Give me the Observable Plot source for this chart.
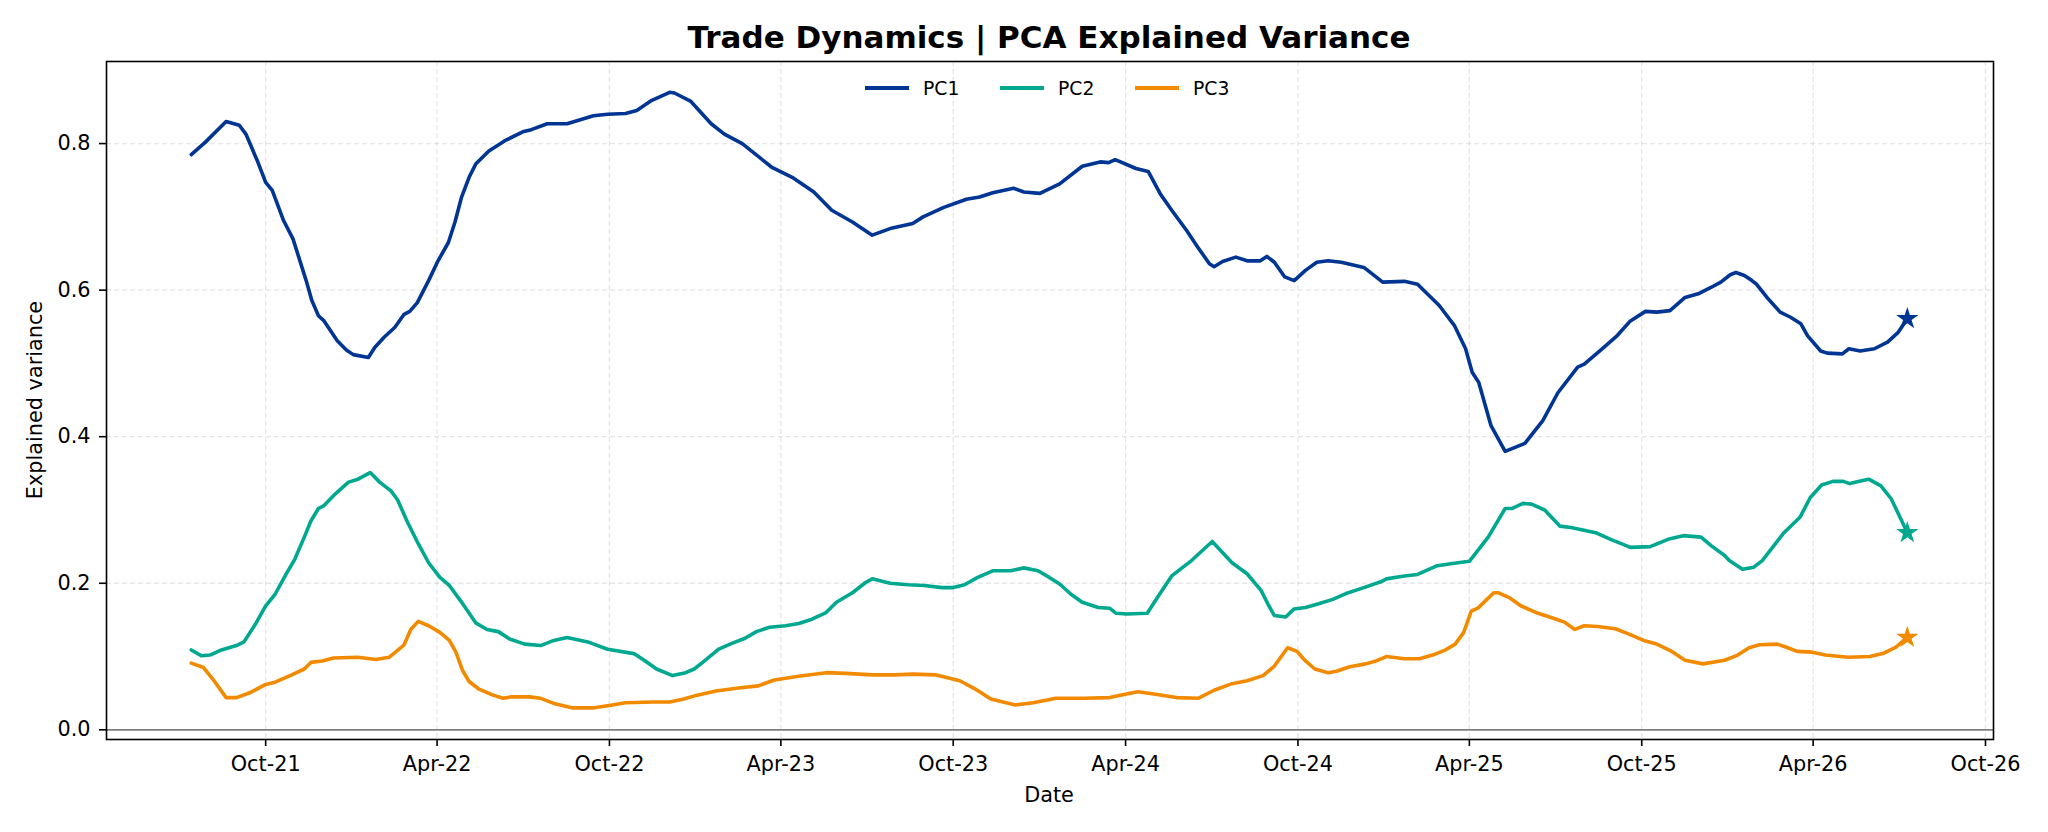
<!DOCTYPE html>
<html><head><meta charset="utf-8">
<script src="https://cdn.jsdelivr.net/npm/d3@7"></script>
<script src="https://cdn.jsdelivr.net/npm/@observablehq/plot@0.6"></script>
<style>html,body{margin:0;padding:0;background:#fff;} svg{display:block;}</style>
</head><body><div id="chart"></div>
<script>
const titleText = "Trade Dynamics | PCA Explained Variance";
const xLabel = "Date";
const yLabel = "Explained variance";
const seriesNames = ["PC1", "PC2", "PC3"];
const seriesColors = ["#003594", "#00A88F", "#F28A00"];
const yTicks = [0, 0.2, 0.4, 0.6, 0.8];
const xTickDates = ["2021-10-01","2022-04-01","2022-10-01","2023-04-01","2023-10-01","2024-04-01","2024-10-01","2025-04-01","2025-10-01","2026-04-01","2026-10-01"];
const xTickLabels = ["Oct-21","Apr-22","Oct-22","Apr-23","Oct-23","Apr-24","Oct-24","Apr-25","Oct-25","Apr-26","Oct-26"];

const pc1Dates = ["2021-07-14","2021-07-29","2021-08-20","2021-09-03","2021-09-10","2021-09-22","2021-10-01","2021-10-08","2021-10-20","2021-10-30","2021-11-13","2021-11-19","2021-11-26","2021-12-02","2021-12-16","2021-12-26","2022-01-02","2022-01-18","2022-01-25","2022-02-04","2022-02-15","2022-02-25","2022-03-03","2022-03-11","2022-03-23","2022-04-02","2022-04-13","2022-04-20","2022-04-27","2022-05-05","2022-05-12","2022-05-26","2022-06-12","2022-07-01","2022-07-10","2022-07-27","2022-08-17","2022-09-14","2022-09-29","2022-10-18","2022-10-30","2022-11-15","2022-12-04","2022-12-09","2022-12-26","2023-01-17","2023-01-31","2023-02-19","2023-03-22","2023-04-13","2023-05-06","2023-05-25","2023-06-16","2023-07-07","2023-07-26","2023-08-19","2023-08-30","2023-09-21","2023-10-15","2023-10-29","2023-11-12","2023-12-04","2023-12-15","2024-01-01","2024-01-22","2024-02-15","2024-03-05","2024-03-14","2024-03-21","2024-04-12","2024-04-25","2024-05-08","2024-05-20","2024-06-05","2024-06-17","2024-06-29","2024-07-04","2024-07-13","2024-07-27","2024-08-08","2024-08-22","2024-08-29","2024-09-06","2024-09-17","2024-09-27","2024-10-09","2024-10-21","2024-11-02","2024-11-16","2024-12-10","2024-12-30","2025-01-22","2025-02-05","2025-02-28","2025-03-16","2025-03-28","2025-04-04","2025-04-11","2025-04-24","2025-05-09","2025-05-30","2025-06-18","2025-07-04","2025-07-25","2025-08-01","2025-08-20","2025-09-05","2025-09-19","2025-10-05","2025-10-17","2025-10-31","2025-11-16","2025-11-30","2025-12-14","2025-12-24","2026-01-03","2026-01-09","2026-01-18","2026-01-26","2026-01-31","2026-02-11","2026-02-25","2026-03-08","2026-03-19","2026-03-26","2026-04-09","2026-04-16","2026-05-02","2026-05-09","2026-05-21","2026-06-05","2026-06-19","2026-06-30","2026-07-10"];
const pc1Values = [0.785,0.802,0.830,0.825,0.813,0.777,0.747,0.736,0.695,0.670,0.613,0.586,0.565,0.558,0.531,0.518,0.512,0.508,0.522,0.536,0.549,0.567,0.571,0.583,0.613,0.640,0.665,0.693,0.727,0.754,0.772,0.790,0.804,0.816,0.819,0.827,0.827,0.838,0.840,0.841,0.845,0.859,0.870,0.869,0.858,0.827,0.813,0.800,0.768,0.754,0.734,0.709,0.693,0.675,0.684,0.691,0.700,0.713,0.724,0.727,0.733,0.739,0.734,0.732,0.745,0.769,0.775,0.774,0.778,0.766,0.762,0.731,0.709,0.681,0.658,0.636,0.632,0.639,0.645,0.640,0.640,0.646,0.638,0.618,0.613,0.627,0.638,0.640,0.638,0.631,0.611,0.612,0.608,0.579,0.552,0.520,0.488,0.474,0.415,0.380,0.391,0.422,0.460,0.495,0.499,0.520,0.538,0.558,0.571,0.570,0.572,0.590,0.595,0.604,0.611,0.621,0.624,0.620,0.613,0.608,0.590,0.570,0.563,0.554,0.538,0.517,0.514,0.513,0.520,0.517,0.520,0.529,0.542,0.561];

const pc2Dates = ["2021-07-14","2021-07-25","2021-08-03","2021-08-15","2021-08-31","2021-09-08","2021-09-20","2021-10-01","2021-10-11","2021-10-23","2021-11-01","2021-11-11","2021-11-18","2021-11-26","2021-12-02","2021-12-14","2021-12-28","2022-01-07","2022-01-20","2022-01-30","2022-02-11","2022-02-18","2022-02-28","2022-03-12","2022-03-23","2022-04-04","2022-04-14","2022-04-26","2022-05-12","2022-05-24","2022-06-05","2022-06-17","2022-07-03","2022-07-20","2022-08-03","2022-08-17","2022-09-08","2022-09-29","2022-10-27","2022-11-08","2022-11-20","2022-12-07","2022-12-21","2022-12-30","2023-01-08","2023-01-25","2023-02-08","2023-02-22","2023-03-06","2023-03-20","2023-04-06","2023-04-20","2023-05-04","2023-05-19","2023-05-30","2023-06-16","2023-06-30","2023-07-07","2023-07-26","2023-08-14","2023-08-31","2023-09-19","2023-09-30","2023-10-13","2023-10-27","2023-11-12","2023-12-01","2023-12-15","2023-12-30","2024-01-11","2024-01-22","2024-02-03","2024-02-15","2024-03-03","2024-03-15","2024-03-22","2024-04-02","2024-04-24","2024-05-06","2024-05-20","2024-06-10","2024-07-02","2024-07-23","2024-08-08","2024-08-23","2024-08-30","2024-09-06","2024-09-18","2024-09-27","2024-10-09","2024-10-23","2024-11-07","2024-11-21","2024-12-10","2024-12-28","2025-01-03","2025-01-22","2025-02-05","2025-02-26","2025-03-14","2025-04-01","2025-04-21","2025-05-09","2025-05-16","2025-05-28","2025-06-06","2025-06-20","2025-07-06","2025-07-18","2025-08-13","2025-08-29","2025-09-19","2025-10-10","2025-10-29","2025-11-14","2025-12-03","2025-12-14","2025-12-28","2026-01-02","2026-01-16","2026-01-28","2026-02-06","2026-02-20","2026-03-01","2026-03-18","2026-03-29","2026-04-10","2026-04-22","2026-05-03","2026-05-10","2026-05-19","2026-05-30","2026-06-12","2026-06-23","2026-07-03","2026-07-10"];
const pc2Values = [0.109,0.101,0.102,0.109,0.115,0.120,0.144,0.169,0.185,0.213,0.233,0.263,0.285,0.302,0.306,0.322,0.338,0.342,0.351,0.338,0.326,0.314,0.285,0.254,0.228,0.208,0.197,0.176,0.146,0.137,0.134,0.124,0.117,0.115,0.122,0.126,0.120,0.110,0.104,0.094,0.083,0.074,0.078,0.083,0.092,0.110,0.118,0.125,0.134,0.140,0.142,0.145,0.151,0.160,0.174,0.187,0.201,0.206,0.200,0.198,0.197,0.194,0.194,0.198,0.208,0.217,0.217,0.221,0.217,0.208,0.199,0.185,0.174,0.167,0.166,0.159,0.158,0.159,0.183,0.210,0.231,0.257,0.228,0.213,0.190,0.172,0.156,0.154,0.165,0.167,0.172,0.178,0.186,0.194,0.202,0.206,0.210,0.212,0.224,0.227,0.230,0.263,0.302,0.302,0.309,0.308,0.300,0.278,0.276,0.269,0.260,0.249,0.250,0.260,0.265,0.263,0.251,0.238,0.231,0.219,0.222,0.231,0.254,0.269,0.290,0.317,0.334,0.339,0.339,0.336,0.339,0.342,0.333,0.315,0.288,0.269];

const pc3Dates = ["2021-07-14","2021-07-27","2021-08-06","2021-08-20","2021-08-31","2021-09-15","2021-10-01","2021-10-11","2021-10-27","2021-11-11","2021-11-18","2021-11-30","2021-12-12","2022-01-07","2022-01-26","2022-02-09","2022-02-25","2022-03-04","2022-03-12","2022-03-23","2022-04-04","2022-04-14","2022-04-21","2022-04-28","2022-05-05","2022-05-15","2022-05-29","2022-06-10","2022-06-19","2022-07-08","2022-07-20","2022-08-03","2022-08-22","2022-09-15","2022-10-04","2022-10-18","2022-11-16","2022-12-04","2022-12-19","2023-01-01","2023-01-22","2023-02-15","2023-03-08","2023-03-25","2023-04-20","2023-05-19","2023-06-09","2023-07-07","2023-07-31","2023-08-19","2023-09-12","2023-10-08","2023-10-24","2023-11-10","2023-12-06","2023-12-25","2024-01-18","2024-02-17","2024-03-15","2024-04-02","2024-04-14","2024-05-01","2024-05-25","2024-06-17","2024-07-04","2024-07-23","2024-08-08","2024-08-25","2024-09-06","2024-09-20","2024-09-30","2024-10-09","2024-10-19","2024-11-02","2024-11-11","2024-11-25","2024-12-12","2024-12-23","2025-01-03","2025-01-22","2025-02-07","2025-02-21","2025-03-05","2025-03-17","2025-03-26","2025-04-03","2025-04-10","2025-04-18","2025-04-27","2025-05-02","2025-05-14","2025-05-26","2025-06-13","2025-06-30","2025-07-11","2025-07-22","2025-08-01","2025-08-15","2025-09-03","2025-09-17","2025-10-03","2025-10-17","2025-11-02","2025-11-16","2025-12-05","2025-12-28","2026-01-11","2026-01-23","2026-02-03","2026-02-22","2026-03-03","2026-03-15","2026-03-31","2026-04-14","2026-05-08","2026-05-31","2026-06-14","2026-06-28","2026-07-10"];
const pc3Values = [0.091,0.085,0.069,0.044,0.044,0.051,0.062,0.065,0.074,0.083,0.092,0.094,0.098,0.099,0.096,0.099,0.116,0.137,0.148,0.142,0.133,0.122,0.106,0.081,0.066,0.056,0.048,0.043,0.045,0.045,0.043,0.036,0.030,0.030,0.034,0.037,0.038,0.038,0.042,0.047,0.053,0.057,0.060,0.068,0.073,0.078,0.077,0.075,0.075,0.076,0.075,0.067,0.056,0.042,0.034,0.037,0.043,0.043,0.044,0.049,0.052,0.049,0.044,0.043,0.054,0.063,0.067,0.074,0.087,0.112,0.107,0.094,0.083,0.078,0.080,0.086,0.090,0.094,0.100,0.097,0.097,0.102,0.108,0.117,0.133,0.162,0.166,0.176,0.187,0.187,0.180,0.169,0.159,0.152,0.147,0.137,0.142,0.141,0.138,0.131,0.122,0.117,0.107,0.095,0.090,0.095,0.102,0.112,0.116,0.117,0.113,0.107,0.106,0.102,0.099,0.100,0.104,0.113,0.126];

const seriesDates = [pc1Dates, pc2Dates, pc3Dates];
const seriesValues = [pc1Values, pc2Values, pc3Values];
const rows = [];
const lastRows = [];
seriesNames.forEach((name, i) => {
  seriesDates[i].forEach((d, j) => rows.push({series: name, date: new Date(d + "T00:00:00Z"), value: seriesValues[i][j]}));
  lastRows.push(rows[rows.length - 1]);
});
const xTicks = xTickDates.map(d => new Date(d + "T00:00:00Z"));
const labelFor = d => xTickLabels[xTicks.findIndex(t => +t === +d)];
const gridStyle = {stroke: "#b0b0b0", strokeOpacity: 0.32, strokeWidth: 1.3, strokeDasharray: "5,3"};

const chart = Plot.plot({
  width: 2048, height: 832,
  marginLeft: 106, marginRight: 55, marginTop: 61, marginBottom: 93,
  style: {fontFamily: "DejaVu Sans", fontSize: "20.8px", color: "#000", background: "#fff"},
  x: {type: "utc", domain: [new Date("2021-04-15T00:00:00Z"), new Date("2026-10-09T12:00:00Z")]},
  y: {domain: [-0.0132, 0.912]},
  color: {domain: seriesNames, range: seriesColors},
  marks: [
    Plot.gridX({ticks: xTicks, ...gridStyle}),
    Plot.gridY({ticks: yTicks.filter(v => v > 0), ...gridStyle}),
    Plot.ruleY([0], {stroke: "#808080", strokeWidth: 1.8}),
    Plot.line(rows, {x: "date", y: "value", z: "series", stroke: "series", strokeWidth: 3.6}),
    Plot.dot(lastRows, {x: "date", y: "value", fill: "series", symbol: "star", r: 7}),
    Plot.frame({stroke: "#000", strokeWidth: 1.6}),
    Plot.axisX({ticks: xTicks, tickFormat: labelFor, tickSize: 7, tickPadding: 10, fontSize: 20.8, strokeWidth: 1.6, label: null}),
    Plot.axisY({ticks: yTicks, tickFormat: d3.format(".1f"), tickSize: 7, tickPadding: 9, fontSize: 20.8, strokeWidth: 1.6, label: null})
  ]
});
document.getElementById("chart").appendChild(chart);

const svg = d3.select(chart);
svg.append("text").attr("x", 1049).attr("y", 48).attr("text-anchor", "middle")
  .attr("font-family", "DejaVu Sans").attr("font-weight", "bold").attr("font-size", 31).attr("fill", "#000").text(titleText);
svg.append("text").attr("x", 1049).attr("y", 802).attr("text-anchor", "middle")
  .attr("font-family", "DejaVu Sans").attr("font-size", 20.8).attr("fill", "#000").text(xLabel);
svg.append("text").attr("transform", "translate(42,400) rotate(-90)").attr("text-anchor", "middle")
  .attr("font-family", "DejaVu Sans").attr("font-size", 20.8).attr("fill", "#000").text(yLabel);
const legendX = [865, 1000, 1135];
const lg = svg.append("g");
seriesNames.forEach((name, i) => {
  lg.append("line").attr("x1", legendX[i]).attr("x2", legendX[i] + 44).attr("y1", 88).attr("y2", 88)
    .attr("stroke", seriesColors[i]).attr("stroke-width", 3.8);
  lg.append("text").attr("x", legendX[i] + 58).attr("y", 95).attr("text-anchor", "start")
    .attr("font-family", "DejaVu Sans").attr("font-size", 18.75).attr("fill", "#000").text(name);
});
</script></body></html>
